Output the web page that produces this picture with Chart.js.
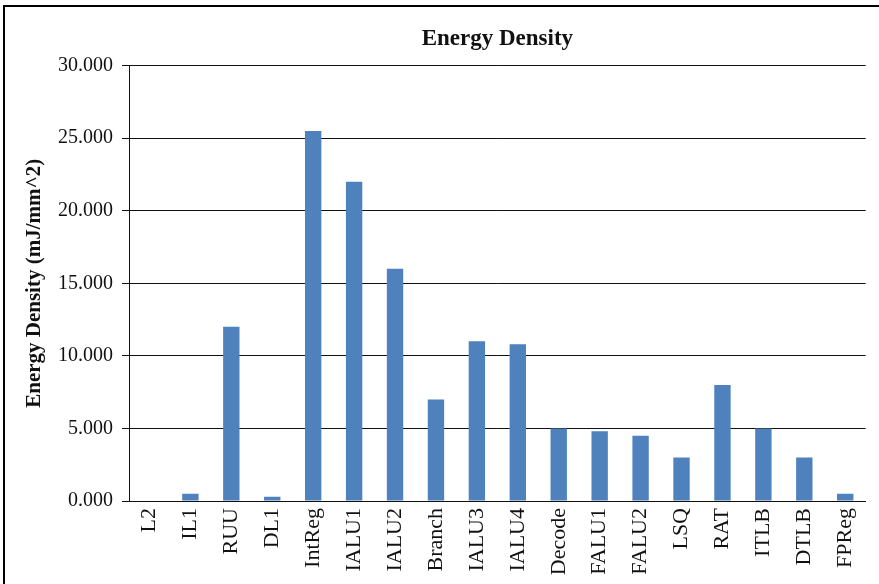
<!DOCTYPE html>
<html>
<head>
<meta charset="utf-8">
<script src="https://cdn.jsdelivr.net/npm/chart.js@4/dist/chart.umd.min.js"></script>
<style>
  html, body { margin: 0; padding: 0; background: #fff; }
  #wrap { position: relative; width: 879px; height: 584px; overflow: hidden; }
  canvas { display: block; }
</style>
</head>
<body>
<div id="wrap"><canvas id="chart" width="879" height="584"></canvas></div>
<script>
// Energy density per microarchitectural unit
const units = ['L2', 'IL1', 'RUU', 'DL1', 'IntReg', 'IALU1', 'IALU2', 'Branch', 'IALU3',
               'IALU4', 'Decode', 'FALU1', 'FALU2', 'LSQ', 'RAT', 'ITLB', 'DTLB', 'FPReg'];
const energyDensity = [0.0, 0.5, 12.0, 0.3, 25.5, 22.0, 16.0, 7.0, 11.0,
                       10.8, 5.0, 4.8, 4.5, 3.0, 8.0, 5.0, 3.0, 0.5];
const yTicks = [0, 5, 10, 15, 20, 25, 30];

const SERIF = "'Liberation Serif', 'Times New Roman', serif";
const INK = '#111';

// Outer frame drawn around the whole figure (only top and left edges fall inside)
const framePlugin = {
  id: 'frame',
  afterDraw(chart) {
    const ctx = chart.ctx;
    ctx.save();
    ctx.strokeStyle = '#000';
    ctx.lineWidth = 2;
    ctx.beginPath();
    ctx.moveTo(4, chart.height + 2);
    ctx.lineTo(4, 6);
    ctx.lineTo(chart.width + 2, 6);
    ctx.stroke();
    ctx.restore();
  }
};

new Chart(document.getElementById('chart'), {
  type: 'bar',
  data: {
    labels: units,
    datasets: [{
      label: 'Energy Density',
      data: energyDensity,
      backgroundColor: '#4F81BD',
      borderWidth: 0,
      barPercentage: 0.4,
      categoryPercentage: 1.0
    }]
  },
  plugins: [framePlugin],
  options: {
    responsive: false,
    animation: false,
    devicePixelRatio: 1,
    layout: { padding: { left: 0, right: 10, top: 0, bottom: 0 } },
    plugins: {
      legend: { display: false },
      tooltip: { enabled: false },
      title: {
        display: true,
        fullSize: false,
        text: 'Energy Density',
        color: INK,
        font: { family: SERIF, size: 23, weight: 'bold', lineHeight: 1.2 },
        padding: { top: 25, bottom: 13 }
      }
    },
    scales: {
      x: {
        grid: { display: false, drawTicks: false },
        border: { display: true, color: INK, width: 1 },
        ticks: {
          color: INK,
          font: { family: SERIF, size: 22 },
          minRotation: 90,
          maxRotation: 90,
          autoSkip: false,
          padding: 7
        },
        afterFit(scale) { scale.height = 83; }
      },
      y: {
        min: 0,
        max: 30,
        afterBuildTicks(scale) { scale.ticks = yTicks.map(v => ({ value: v })); },
        grid: { color: INK, lineWidth: 1, drawTicks: true, tickLength: 7 },
        border: { display: true, color: INK, width: 1 },
        ticks: {
          color: INK,
          font: { family: SERIF, size: 20 },
          padding: 9,
          callback: v => Number(v).toFixed(3)
        },
        title: {
          display: true,
          text: 'Energy Density (mJ/mm^2)',
          color: INK,
          font: { family: SERIF, size: 21, weight: 'bold', lineHeight: 1.2 },
          padding: { top: 22, bottom: 0 }
        },
        afterFit(scale) { scale.width = 129; }
      }
    }
  }
});
</script>
</body>
</html>
